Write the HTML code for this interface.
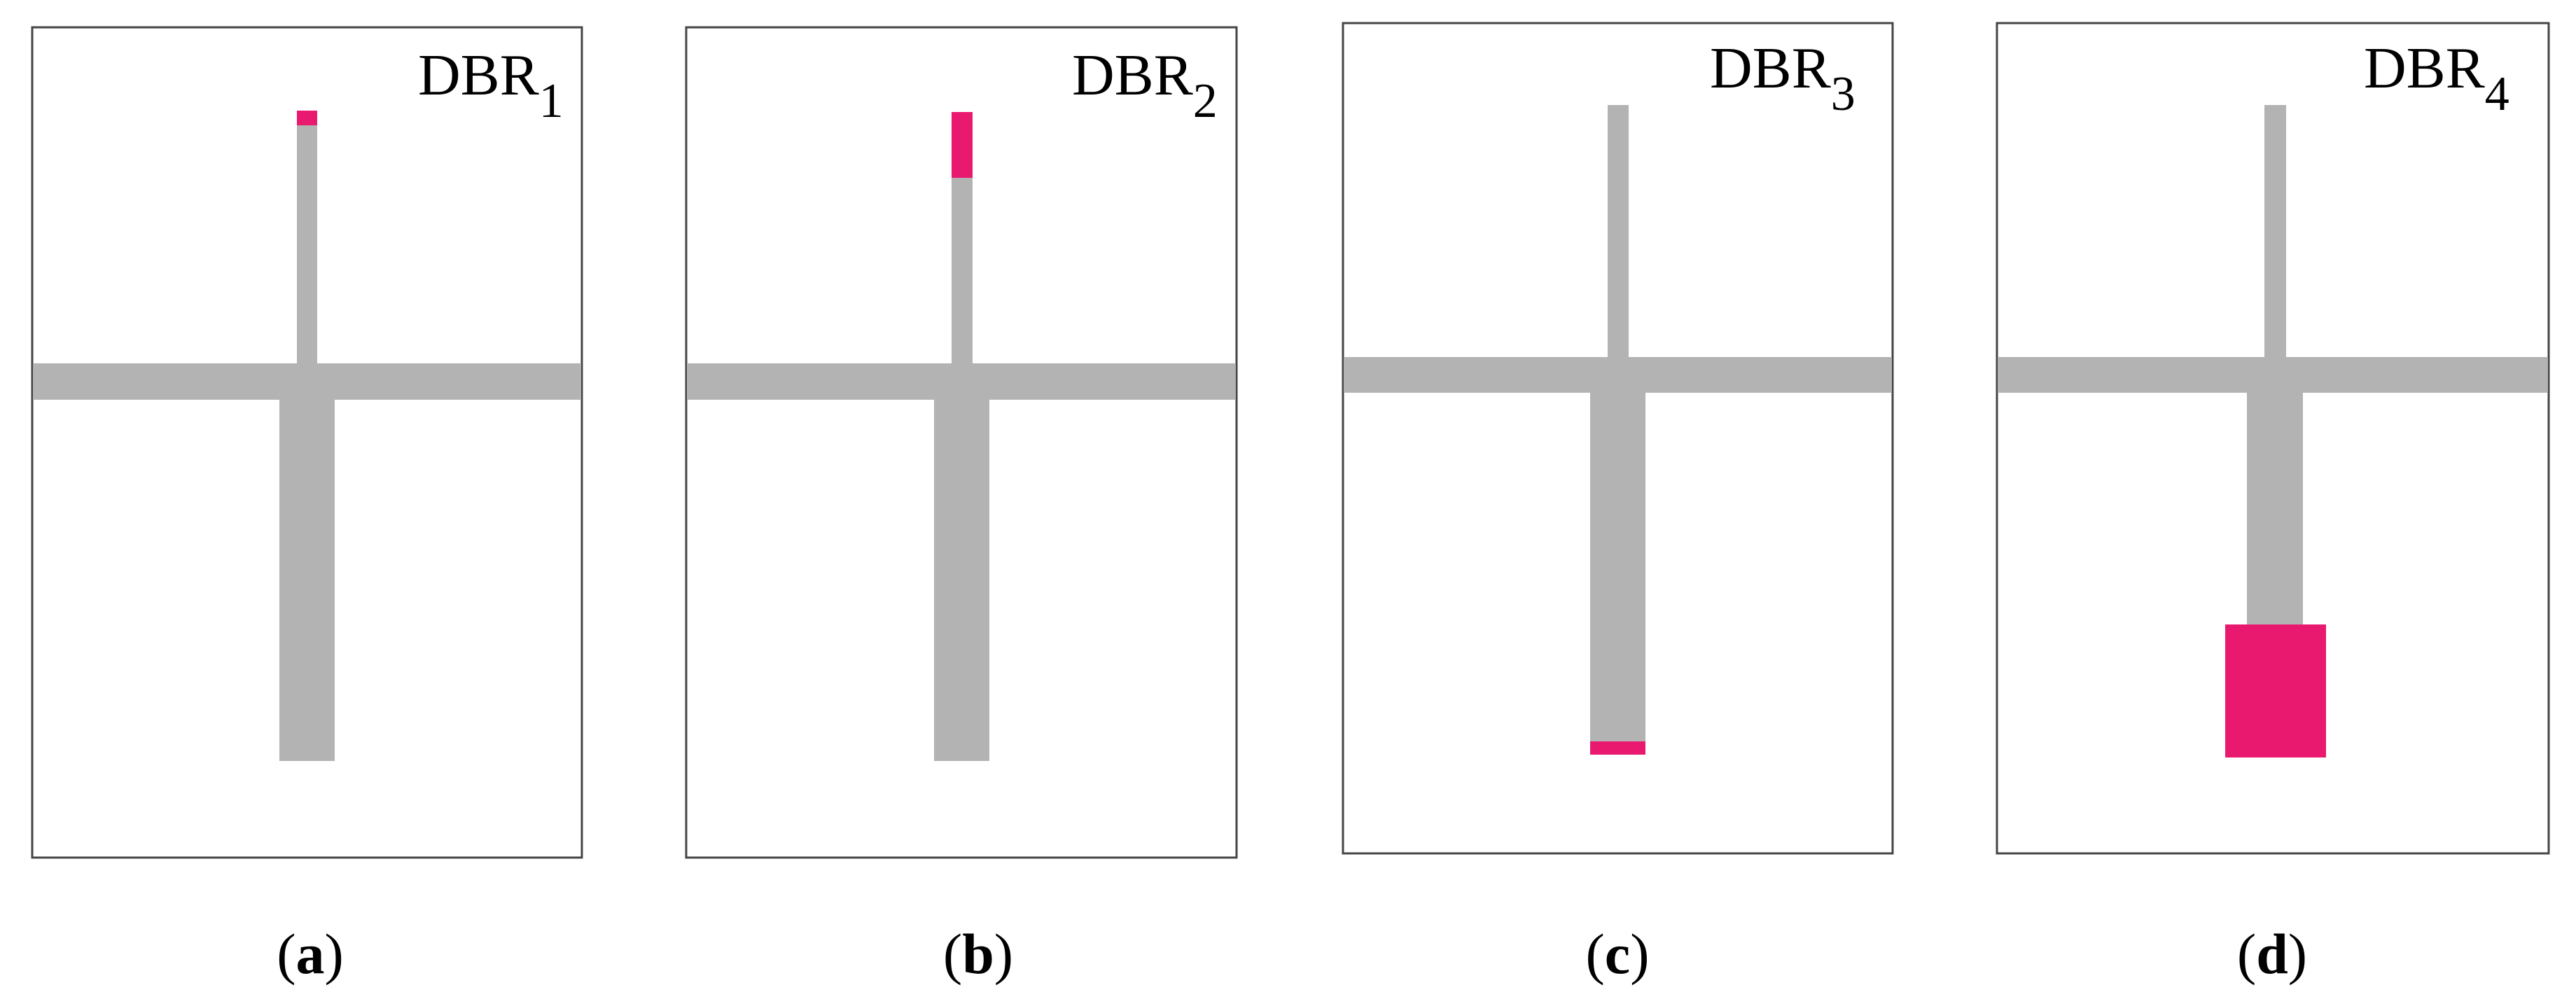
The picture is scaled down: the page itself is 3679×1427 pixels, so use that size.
<!DOCTYPE html>
<html><head><meta charset="utf-8"><style>
body{margin:0;background:#fff;}
svg{display:block}
</style></head><body>
<svg width="3679" height="1427" viewBox="0 0 3679 1427" xmlns="http://www.w3.org/2000/svg">
<g fill="none" stroke="#454545" stroke-width="3">
<rect x="46" y="39" width="785" height="1186"/>
<rect x="980" y="39" width="786" height="1186"/>
<rect x="1918" y="33" width="785" height="1186"/>
<rect x="2852" y="33" width="788" height="1186"/>
</g>
<g fill="#b3b3b3">
<rect x="47" y="519" width="783" height="52"/>
<rect x="424" y="179" width="29" height="340"/>
<rect x="399" y="571" width="79" height="516"/>
<rect x="981" y="519" width="784" height="52"/>
<rect x="1359" y="254" width="30" height="265"/>
<rect x="1334" y="571" width="79" height="516"/>
<rect x="1919" y="510" width="783" height="51"/>
<rect x="2296" y="150" width="30" height="360"/>
<rect x="2271" y="561" width="79" height="498"/>
<rect x="2853" y="510" width="786" height="51"/>
<rect x="3234" y="150" width="31" height="360"/>
<rect x="3209" y="561" width="80" height="331"/>
</g>
<g fill="#e8196f">
<rect x="424" y="158" width="29" height="21"/>
<rect x="1359" y="160" width="30" height="94"/>
<rect x="2271" y="1059" width="79" height="19"/>
<rect x="3178" y="892" width="144" height="190"/>
</g>
<g font-family="Liberation Serif, serif" font-size="84" fill="#000">
<text x="597" y="135">DBR<tspan font-size="70" dy="32">1</tspan></text>
<text x="1531" y="135">DBR<tspan font-size="70" dy="32">2</tspan></text>
<text x="2442" y="125">DBR<tspan font-size="70" dy="32">3</tspan></text>
<text x="3376" y="125">DBR<tspan font-size="70" dy="32">4</tspan></text>
</g>
<g font-family="Liberation Serif, serif" font-size="82" fill="#000" text-anchor="middle">
<text x="443" y="1390">(<tspan font-weight="bold">a</tspan>)</text>
<text x="1397" y="1390">(<tspan font-weight="bold">b</tspan>)</text>
<text x="2310" y="1390">(<tspan font-weight="bold">c</tspan>)</text>
<text x="3245" y="1390">(<tspan font-weight="bold">d</tspan>)</text>
</g>
</svg>
</body></html>
